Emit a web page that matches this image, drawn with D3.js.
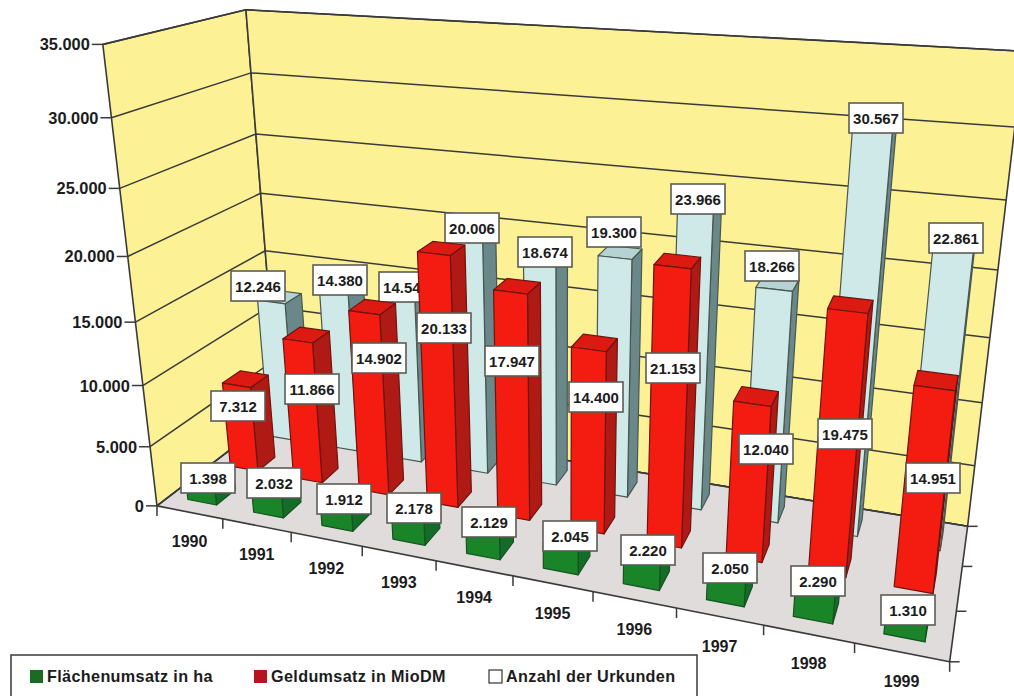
<!DOCTYPE html>
<html lang="de">
<head>
<meta charset="utf-8">
<title>Grundstücksverkehr 1990–1999</title>
<script src="https://cdn.jsdelivr.net/npm/d3@7/dist/d3.min.js"></script>
<style>
  html, body { margin: 0; padding: 0; background: #fff; overflow: hidden; }
  svg { display: block; }
  text { font-family: "Liberation Sans", Arial, sans-serif; font-weight: 700; fill: #1c1c1c; }
</style>
</head>
<body>
<svg id="chart" width="1014" height="696"></svg>
<script>
// Chart values
const years = ["1990","1991","1992","1993","1994","1995","1996","1997","1998","1999"];
const flaechenumsatz = [1398, 2032, 1912, 2178, 2129, 2045, 2220, 2050, 2290, 1310];
const geldumsatz = [7312, 11866, 14902, 20133, 17947, 14400, 21153, 12040, 19475, 14951];
const urkunden = [12246, 14380, 14540, 20006, 18674, 19300, 23966, 18266, 30567, 22861];
const valueTicks = [0, 5000, 10000, 15000, 20000, 25000, 30000, 35000];
const seriesNames = ["Flächenumsatz in ha", "Geldumsatz in MioDM", "Anzahl der Urkunden"];

// Hand-placed value boxes (centre x and y per year)
const flaechenLabelX = [208, 274, 344, 414, 489, 570, 648, 730, 818, 908];
const flaechenLabelY = [478, 483, 499, 508, 522, 536, 550, 568, 581, 610];
const geldLabelX = [238, 312, 379, 444, 512, 596, 673, 766, 845, 933];
const geldLabelY = [406, 389, 358, 328, 361, 397, 368, 449, 434, 478];
const urkundenLabelX = [258, 340, 406, 472, 545, 614, 698, 772, 876, 956];
const urkundenLabelY = [286, 280, 287, 228, 252, 232, 199, 266, 118, 238];

// Camera calibration: chart-box coordinates (year, depth, height in 0..1) to screen pixels
const calibration = [
  [0, 0, 0, 157, 506], [0, 0, 1, 103, 44], [0, 1, 0, 279, 414], [0, 1, 1, 245, 10],
  [1, 0, 0, 950, 662], [1, 1, 0, 968, 525], [1, 1, 1, 1024, 52],
  [0.1, 0, 0, 222, 518], [0.3, 0, 0, 361, 547], [0.7, 0, 0, 677, 608], [0.9, 0, 0, 855, 643],
  [0, 0, 3 / 7, 137, 322], [0, 1, 3 / 7, 265, 250], [1, 1, 4 / 7, 998, 270], [1, 1 / 3, 0, 955, 612]
];

// Least-squares fit of a 3x4 projective camera
function solveCamera(points) {
  const n = 11;
  const A = Array.from({ length: n }, () => new Array(n + 1).fill(0));
  const add = (row, rhs) => {
    for (let i = 0; i < n; i++) {
      for (let j = 0; j < n; j++) A[i][j] += row[i] * row[j];
      A[i][n] += row[i] * rhs;
    }
  };
  points.forEach(([u, v, w, x, y]) => {
    const sx = x / 1000, sy = y / 1000;
    add([u, v, w, 1, 0, 0, 0, 0, -sx * u, -sx * v, -sx * w], sx);
    add([0, 0, 0, 0, u, v, w, 1, -sy * u, -sy * v, -sy * w], sy);
  });
  for (let c = 0; c < n; c++) {
    let pivot = c;
    for (let r = c + 1; r < n; r++) if (Math.abs(A[r][c]) > Math.abs(A[pivot][c])) pivot = r;
    [A[c], A[pivot]] = [A[pivot], A[c]];
    for (let r = 0; r < n; r++) {
      if (r === c) continue;
      const f = A[r][c] / A[c][c];
      for (let k = c; k <= n; k++) A[r][k] -= f * A[c][k];
    }
  }
  return A.map((row, i) => row[n] / row[i]);
}
const cam = solveCamera(calibration);
const project = (u, v, w) => {
  const d = cam[8] * u + cam[9] * v + cam[10] * w + 1;
  return [
    1000 * (cam[0] * u + cam[1] * v + cam[2] * w + cam[3]) / d,
    1000 * (cam[4] * u + cam[5] * v + cam[6] * w + cam[7]) / d
  ];
};

// Scales into the chart box
const uScale = d3.scaleBand().domain(years).range([0, 1]).paddingInner(0.56).paddingOuter(0.28);
const uCell = d3.scaleBand().domain(years).range([0, 1]);
const vScale = d3.scaleBand().domain(seriesNames).range([0, 1]).paddingInner(0.56).paddingOuter(0.28);
const wScale = d3.scaleLinear().domain([0, 35000]).range([0, 1]);
const fmt = d3.formatLocale({ decimal: ",", thousands: ".", grouping: [3], currency: ["", ""] }).format(",");

const svg = d3.select("#chart");
const path = pts => "M" + pts.map(p => p.join(",")).join("L") + "Z";
const line = (a, b) => "M" + a.join(",") + "L" + b.join(",");

// Walls and floor
const box = svg.append("g");
const quad = (pts, fill) => box.append("path").attr("d", path(pts.map(p => project(...p))))
  .attr("fill", fill).attr("stroke", "#3a3a3a").attr("stroke-width", 1.6).attr("stroke-linejoin", "round");
quad([[0, 0, 0], [0, 1, 0], [0, 1, 1], [0, 0, 1]], "#fdf196");
quad([[0, 1, 0], [1, 1, 0], [1, 1, 1], [0, 1, 1]], "#fdf196");
quad([[0, 0, 0], [1, 0, 0], [1, 1, 0], [0, 1, 0]], "#e0dcdc");

// Gridlines on both walls, value ticks and labels
valueTicks.forEach(t => {
  const w = wScale(t);
  const front = project(0, 0, w), corner = project(0, 1, w), right = project(1, 1, w);
  box.append("path").attr("d", line(front, corner) + line(corner, right))
    .attr("fill", "none").attr("stroke", "#3a3a3a").attr("stroke-width", 1.5);
  box.append("path").attr("d", line([front[0] - 11, front[1]], front))
    .attr("stroke", "#3a3a3a").attr("stroke-width", 1.5);
  box.append("text").attr("x", front[0] - 13).attr("y", front[1] + 6)
    .attr("text-anchor", "end").attr("font-size", 16.4).text(fmt(t));
});

// Year ticks along the front edge, depth ticks on the right edge
d3.range(0, 11).forEach(i => {
  const p = project(i / 10, 0, 0);
  box.append("path").attr("d", line(p, [p[0], p[1] + 10])).attr("stroke", "#3a3a3a").attr("stroke-width", 1.5);
});
d3.range(0, 4).forEach(i => {
  const p = project(1, i / 3, 0);
  box.append("path").attr("d", line(p, [p[0] + 10, p[1]])).attr("stroke", "#3a3a3a").attr("stroke-width", 1.5);
});
years.forEach(y => {
  const p = project(uCell(y) + uCell.bandwidth() / 2, 0, 0);
  box.append("text").attr("x", p[0]).attr("y", p[1] + 35)
    .attr("text-anchor", "middle").attr("font-size", 16).text(y);
});

// Bars and value boxes, furthest row first so nearer rows overlap them
const rows = [
  { name: seriesNames[2], values: urkunden, lx: urkundenLabelX, ly: urkundenLabelY,
    front: "#cfe9e9", side: "#6a8789", top: "#b5d3d2", stroke: "#48574f" },
  { name: seriesNames[1], values: geldumsatz, lx: geldLabelX, ly: geldLabelY,
    front: "#f41c10", side: "#b01a14", top: "#dc1a12", stroke: "#6e1410" },
  { name: seriesNames[0], values: flaechenumsatz, lx: flaechenLabelX, ly: flaechenLabelY,
    front: "#1a8428", side: "#136c28", top: "#2a9a3a", stroke: "#15531f" }
];

rows.forEach(row => {
  const g = svg.append("g");
  const v0 = vScale(row.name), v1 = v0 + vScale.bandwidth();
  years.forEach((year, i) => {
    const u0 = uScale(year), u1 = u0 + uScale.bandwidth(), w = wScale(row.values[i]);
    const faces = [
      [[u0, v1, 0], [u0, v0, 0], [u0, v0, w], [u0, v1, w]].concat(["side"]),
      [[u1, v0, 0], [u1, v1, 0], [u1, v1, w], [u1, v0, w]].concat(["side"]),
      [[u0, v0, w], [u1, v0, w], [u1, v1, w], [u0, v1, w]].concat(["top"]),
      [[u0, v0, 0], [u1, v0, 0], [u1, v0, w], [u0, v0, w]].concat(["front"])
    ];
    faces.forEach(f => {
      const pts = f.slice(0, 4).map(p => project(...p));
      if (d3.polygonArea(pts) <= 0) return;
      g.append("path").attr("d", path(pts)).attr("fill", row[f[4]])
        .attr("stroke", row.stroke).attr("stroke-width", 1.2).attr("stroke-linejoin", "round");
    });
  });
  years.forEach((year, i) => {
    const w = 54, h = 30, cx = row.lx[i], cy = row.ly[i];
    g.append("rect").attr("x", cx - w / 2).attr("y", cy - h / 2).attr("width", w).attr("height", h)
      .attr("fill", "#fff").attr("stroke", "#5c5c54").attr("stroke-width", 1.6);
    g.append("text").attr("x", cx).attr("y", cy + 5.5).attr("text-anchor", "middle")
      .attr("font-size", 15).text(fmt(row.values[i]));
  });
});

// Legend
const legend = svg.append("g");
legend.append("rect").attr("x", 11).attr("y", 655).attr("width", 686).attr("height", 60)
  .attr("fill", "#fff").attr("stroke", "#444").attr("stroke-width", 1.6);
const legendKeys = [
  { x: 30, fill: "#1a6b24", stroke: "none", name: seriesNames[0] },
  { x: 254, fill: "#b81420", stroke: "none", name: seriesNames[1] },
  { x: 489, fill: "#fff", stroke: "#333", name: seriesNames[2] }
];
legendKeys.forEach(k => {
  legend.append("rect").attr("x", k.x).attr("y", 670).attr("width", 13).attr("height", 13)
    .attr("fill", k.fill).attr("stroke", k.stroke).attr("stroke-width", 1.2);
  legend.append("text").attr("x", k.x + 17).attr("y", 682).attr("font-size", 16.2)
    .attr("letter-spacing", 0.35).text(k.name);
});
</script>
</body>
</html>
